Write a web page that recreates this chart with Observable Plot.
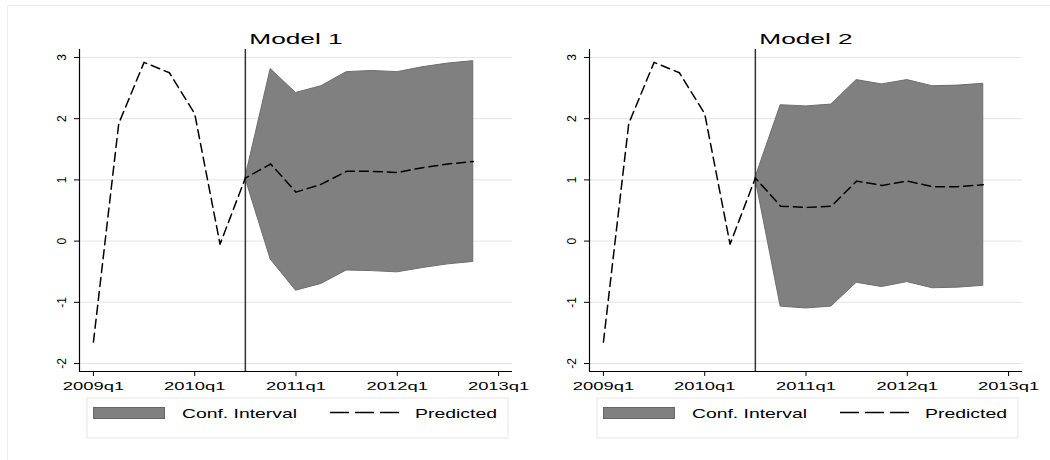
<!DOCTYPE html>
<html><head><meta charset="utf-8">
<script src="https://cdn.jsdelivr.net/npm/d3@7"></script>
<script src="https://cdn.jsdelivr.net/npm/@observablehq/plot@0.6"></script>
<style>
body{margin:0;background:#fff;}
#wrap{position:relative;width:1050px;height:460px;overflow:hidden;background:#fff;}
.panel{position:absolute;top:0;width:525px;height:460px;}
#p1{left:0;} #p2{left:525px;}
#wrap svg{overflow:visible;background:transparent !important;}
#topline{position:absolute;left:7px;top:5px;width:1043px;height:0;border-top:1px solid #efefef;}
#leftline{position:absolute;left:7px;top:5px;width:0;height:455px;border-left:1px solid #efefef;}
</style></head><body>
<div id="wrap"><div id="topline"></div><div id="leftline"></div><div class="panel" id="p1"></div><div class="panel" id="p2"></div></div>
<script>
const quarters = ["2009q1","2009q2","2009q3","2009q4","2010q1","2010q2","2010q3","2010q4",
                  "2011q1","2011q2","2011q3","2011q4","2012q1","2012q2","2012q3","2012q4"];
const xTickLabels = ["2009q1","2010q1","2011q1","2012q1","2013q1"];
const xTickIndex = [0,4,8,12,16];
const yTicks = [-2,-1,0,1,2,3];
const forecastStart = "2010q3";
const titles = ["Model 1","Model 2"];
const legendLabels = ["Conf. Interval","Predicted"];

const pred1  = [-1.65,1.92,2.92,2.75,2.08,-0.05,1.03,1.26,0.80,0.93,1.14,1.14,1.12,1.20,1.26,1.30];
const lower1 = [null,null,null,null,null,null,1.03,-0.30,-0.81,-0.70,-0.48,-0.49,-0.51,-0.44,-0.38,-0.34];
const upper1 = [null,null,null,null,null,null,1.03,2.81,2.42,2.53,2.76,2.78,2.76,2.84,2.90,2.94];

const pred2  = [-1.65,1.92,2.92,2.75,2.08,-0.05,1.03,0.57,0.55,0.57,0.98,0.91,0.98,0.89,0.89,0.92];
const lower2 = [null,null,null,null,null,null,1.03,-1.07,-1.10,-1.07,-0.68,-0.75,-0.67,-0.77,-0.76,-0.73];
const upper2 = [null,null,null,null,null,null,1.03,2.22,2.20,2.23,2.63,2.56,2.63,2.53,2.54,2.57];

const FONT = "'Liberation Sans', Arial, Helvetica, sans-serif";

function stretch(sel, k){
  sel.each(function(){
    const L = this.getComputedTextLength();
    if (L > 0){ this.setAttribute("textLength", L*k); this.setAttribute("lengthAdjust","spacingAndGlyphs"); }
  });
}

function panel(el, title, pred, lo, hi, ml, mr){
  const rows = quarters.map((q,i)=>({i, q, p:pred[i], lo:lo[i], hi:hi[i]}));
  const ci = rows.filter(d => d.lo != null);
  const xDomain = [-0.55, 16.55], yDomain = [-2.13, 3.13];
  const svg = Plot.plot({
    width:525, height:460, marginLeft:ml, marginRight:mr, marginTop:49, marginBottom:89,
    style:{background:"transparent", fontFamily:FONT, overflow:"visible", color:"#000"},
    x:{domain:xDomain},
    y:{domain:yDomain},
    marks:[
      Plot.gridY(yTicks, {stroke:"#e4e4e4", strokeOpacity:1}),
      Plot.areaY(ci, {x:"i", y1:"lo", y2:"hi", fill:"#808080", stroke:"#6e6e6e", strokeWidth:1}),
      Plot.ruleX([quarters.indexOf(forecastStart)], {stroke:"#333", strokeWidth:1.5}),
      Plot.lineY(rows, {x:"i", y:"p", stroke:"#000", strokeWidth:1.5, strokeDasharray:"9,5"}),
      Plot.ruleX([xDomain[0]], {stroke:"#000", strokeWidth:1.2}),
      Plot.ruleY([yDomain[0]], {stroke:"#000", strokeWidth:1.2}),
      Plot.axisX(xTickIndex, {tickSize:5, tickPadding:5, fontSize:11.5, label:null,
        tickFormat:d => xTickLabels[xTickIndex.indexOf(d)]}),
      Plot.axisY(yTicks, {tickSize:5, tickRotate:-90, tickPadding:9, fontSize:12, label:null,
        tickFormat:d => String(d)}),
      Plot.text([title], {frameAnchor:"top", lineAnchor:"bottom", dy:-6, fontSize:15, fill:"#000"})
    ]
  });
  document.getElementById(el).appendChild(svg);
  const s = d3.select(svg);
  stretch(s.selectAll('g[aria-label="x-axis tick label"] text'), 1.6);
  stretch(s.selectAll('g[aria-label="text"] text'), 1.75);

  // legend
  const bx = ml + 8, bw = 525 - ml - mr - 12;
  const g = s.append("g").attr("font-family", FONT).attr("font-size", 13).attr("text-anchor", "start");
  g.append("rect").attr("x", bx).attr("y", 398).attr("width", bw).attr("height", 40)
    .attr("fill", "#fff").attr("stroke", "#e6e6e6");
  g.append("rect").attr("x", bx+6.5).attr("y", 407.5).attr("width", 71).attr("height", 11)
    .attr("fill", "#808080").attr("stroke", "#666");
  g.append("text").attr("x", bx+95).attr("y", 418).attr("fill", "#000").attr("text-anchor", "start")
    .attr("textLength", 115).attr("lengthAdjust", "spacingAndGlyphs").text(legendLabels[0]);
  g.append("line").attr("x1", bx+243).attr("x2", bx+313).attr("y1", 412.5).attr("y2", 412.5)
    .attr("stroke", "#000").attr("stroke-width", 1.3).attr("stroke-dasharray", "19,6,19,6,19,5,2");
  g.append("text").attr("x", bx+328).attr("y", 418).attr("fill", "#000").attr("text-anchor", "start")
    .attr("textLength", 82).attr("lengthAdjust", "spacingAndGlyphs").text(legendLabels[1]);
}

panel("p1", titles[0], pred1, lower1, upper1, 79, 13);
panel("p2", titles[1], pred2, lower2, upper2, 64, 28);
</script>
</body></html>
